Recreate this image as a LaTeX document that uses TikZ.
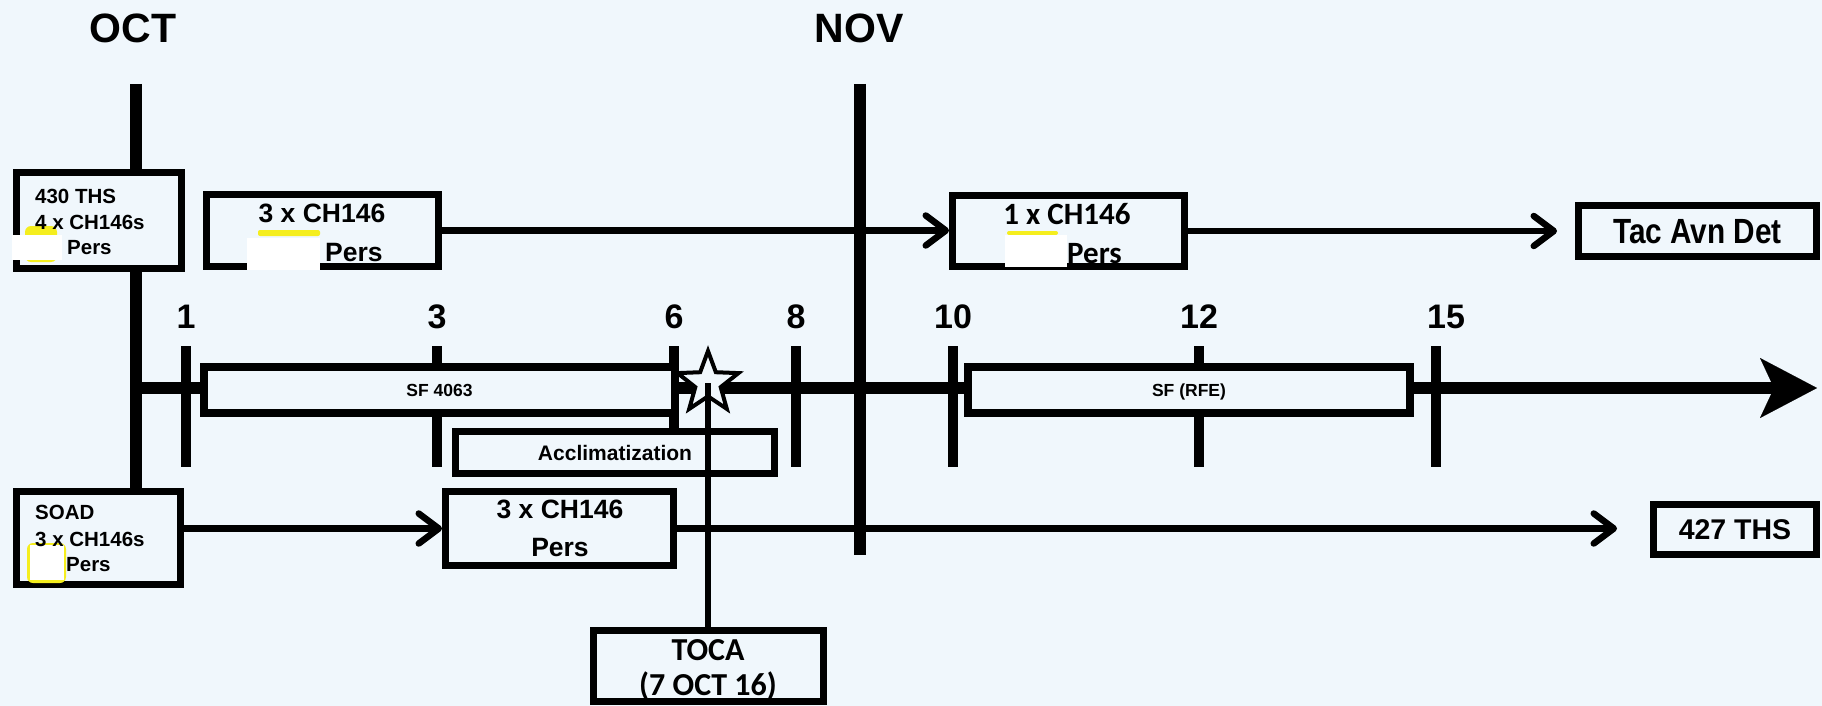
\documentclass[tikz,border=0pt]{standalone}
\usepackage{fontspec}
\setmainfont{Liberation Sans}
\newfontfamily\calibfont{Carlito}
\usetikzlibrary{arrows.meta,shapes.geometric}
\definecolor{bgc}{RGB}{240,247,252}
\definecolor{hl}{RGB}{245,238,30}
\begin{document}
\begin{tikzpicture}[x=1pt,y=-1pt,
  bx/.style={draw=black,line width=7pt,fill=bgc,inner sep=0pt,rectangle},
  sfbx/.style={draw=black,line width=8pt,fill=bgc,inner sep=0pt,rectangle},
  arr/.style={line width=6.5pt,-{Straight Barb[length=20pt,width=30pt,round]}},
  vbar/.style={line width=12pt},
  tickline/.style={line width=10pt},
  mainline/.style={line width=12pt,-{Stealth[length=57pt,width=60pt,inset=14pt,line width=0.1pt]}},
  tx/.style={inner sep=0pt,text depth=0pt},
  t41/.style={tx,font=\fontsize{41}{45}\selectfont\bfseries,text height=29.4pt},
  t34/.style={tx,font=\fontsize{34}{38}\selectfont\bfseries,text height=24.3pt},
  t20/.style={tx,font=\fontsize{20.5}{24}\selectfont\bfseries,text height=14.7pt},
  t26/.style={tx,font=\fontsize{26.5}{30}\selectfont\bfseries,text height=19pt},
  t17/.style={tx,font=\fontsize{17.5}{20}\selectfont\bfseries,text height=12.5pt},
  t21/.style={tx,font=\fontsize{21}{24}\selectfont\bfseries,text height=15pt},
  t28/.style={tx,font=\fontsize{28.5}{32}\selectfont\bfseries,text height=20.4pt},
  t35/.style={tx,font=\fontsize{35}{38}\selectfont\bfseries,text height=25pt},
  c31/.style={tx,font=\calibfont\fontsize{31}{34}\selectfont\bfseries,text height=20pt},
  c32/.style={tx,font=\calibfont\fontsize{32}{35}\selectfont\bfseries,text height=20.6pt}
]
\useasboundingbox[fill=bgc] (0,0) rectangle (1822,706);

% month lines
\coordinate (octtop) at (136,84);
\coordinate (novtop) at (860,84);
\coordinate (novbot) at (860,555);
\coordinate (m0) at (136,388);
\coordinate (m1) at (1817,388);

\node[t41] (oct) at (133,28) {OCT};
\node[t41] (nov) at (859,28) {NOV};

\node[bx,minimum width=164pt,minimum height=93pt] (soad) at (98.5,538) {};
\draw[vbar] (octtop) -- (octtop |- soad.north);
\draw[vbar] (novtop) -- (novbot);
\draw[mainline] (m0) -- (m1);

% ticks (behind the boxes)
\foreach \x/\n/\lx in {186/1/186, 437/3/437, 796/8/796, 953/10/953, 1199/12/1199, 1436/15/1446} {
  \draw[tickline] (\x,346) -- (\x,467);
  \node[t34] (lab\n) at (\lx,316) {\n};
}
\draw[tickline] (674,346) -- (674,428);
\node[t34] (lab6) at (674,316) {6};

% boxes
\node[bx,minimum width=165pt,minimum height=96pt] (ths430) at (99,220.5) {};
\node[bx,minimum width=164pt,minimum height=93pt] (soad2) at (98.5,538) {};
\node[bx,minimum width=232pt,minimum height=72pt] (topA) at (322.5,230.5) {};
\node[bx,minimum width=232pt,minimum height=71pt] (topB) at (1068.5,231) {};
\node[bx,minimum width=238pt,minimum height=51pt] (tac) at (1697.5,231) {};
\node[bx,minimum width=228pt,minimum height=74pt] (botA) at (559.5,528.5) {};
\node[bx,minimum width=163pt,minimum height=50pt] (ths427) at (1735,529.5) {};
\node[sfbx,minimum width=471pt,minimum height=46pt] (sf4063) at (439.5,390) {};
\node[sfbx,minimum width=442pt,minimum height=46pt] (sfrfe) at (1189,390) {};

\node[bx,minimum width=319pt,minimum height=42pt] (accl) at (615,452.5) {};
\node[bx,minimum width=230pt,minimum height=71pt] (toca) at (708.5,666) {};

\node[star,star points=5,star point ratio=2.4,minimum size=64pt,inner sep=0pt,
      draw=black,line width=4pt,fill=bgc] (tstar) at (708,383) {};
\draw[line width=6pt] (tstar.center) -- (tstar.center |- toca.north);

% connectors
\coordinate (tacin) at ([xshift=-18pt]tac.west);
\coordinate (thsin) at ([xshift=-33pt]ths427.west);
\draw[arr] (topA.east) -- (topA.east -| topB.west);
\draw[arr] (topB.east) -- (topB.east -| tacin);
\draw[arr] (soad.east |- botA.west) -- (botA.west);
\draw[arr] (botA.east) -- (botA.east -| thsin);

% highlights and redactions
\fill[hl,rounded corners=6pt] (25,226) rectangle (57,262);
\fill[white] (12,235) rectangle (62,260);
\fill[hl,rounded corners=2pt] (258,230) rectangle (320,236);
\fill[white] (247,238) rectangle (320,270);
\fill[hl,rounded corners=2pt] (1007,231) rectangle (1058,235);
\fill[white] (1005,235) rectangle (1067,267);
\fill[hl,rounded corners=6pt] (27,543) rectangle (66,583);
\fill[white] (30,545) rectangle (64,580);

% texts
\node[t20,anchor=west] (a1) at (35,196) {430 THS};
\node[t20,anchor=west] (a2) at (35,222) {4 x CH146s};
\node[t20,anchor=west] (a3) at (67,247) {Pers};
\node[t20,anchor=west] (s1) at (35,512) {SOAD};
\node[t20,anchor=west] (s2) at (35,539) {3 x CH146s};
\node[t20,anchor=west] (s3) at (66,564) {Pers};
\node[t26] (b1) at (322,213) {3 x CH146};
\node[t26,anchor=west] (b2) at (325,252) {Pers};
\node[t26] (c1) at (560,509) {3 x CH146};
\node[t26] (c2) at (560,547) {Pers};
\node[c31] (d1) at (1067,214) {1 x CH146};
\node[c31,anchor=west] (d2) at (1067,253) {Pers};
\node[t35] (e1) at (tac.center) {\scalebox{0.85}[1]{Tac Avn Det}};
\node[t28] (f1) at (ths427.center) {427 THS};
\node[t17] (g1) at (sf4063.center) {SF 4063};
\node[t17] (g2) at (sfrfe.center) {SF (RFE)};
\node[t21] (h1) at (accl.center) {Acclimatization};
\node[c32] (i1) at (708,650) {TOCA};
\node[c32] (i2) at (708,685) {(7 OCT 16)};
\end{tikzpicture}
\end{document}
